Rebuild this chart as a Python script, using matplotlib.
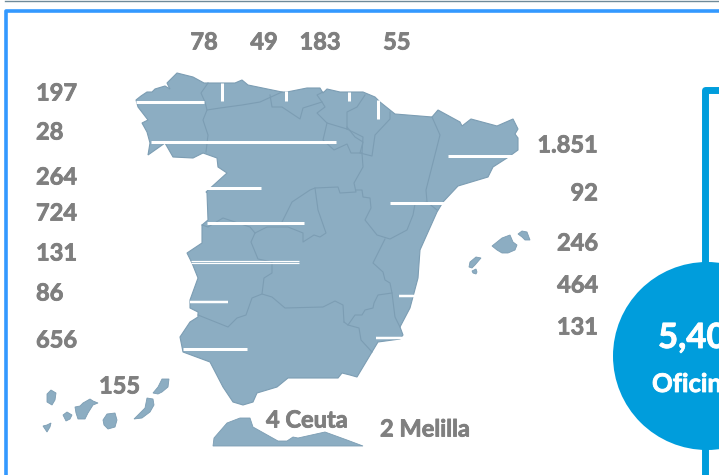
import matplotlib
matplotlib.use("Agg")
import matplotlib.pyplot as plt
import matplotlib.patheffects as pe
from matplotlib.patches import Polygon, Circle

plt.rcParams['font.family'] = ['Lato', 'DejaVu Sans']

# ---- data: labels
left_values = ["197", "28", "264", "724", "131", "86", "656"]
top_values = ["78", "49", "183", "55"]
right_values = ["1.851", "92", "246", "464", "131"]
canary_value = "155"
ceuta_label = "4 Ceuta"
melilla_label = "2 Melilla"
total_label = "5,400"
total_caption = "Oficinas"

# ---- layout (pixel coordinates of the 719x475 picture)
left_y = [93, 132, 177, 213, 253, 293, 340]
top_x = [204, 264, 320, 397]
right_y = [145, 193, 243, 285, 327]

FILL = "#8CADC2"
EDGE = "#7C9DB3"
GREY = "#7F7F7F"
BLUE = "#009DDC"
FRAME = "#3399FF"

mainland = [(136,100),(141,96),(147,92),(152,92),(155,89),(165,86),(170,89),(167,83),(177,73),(193,77),
 (204,83),(220,83),(235,83),(242,80),(248,85),(282,92),(287,92),(307,88),(320,88),(323,93),(327,89),
 (340,92),(363,92),(375,97),(380,102),(395,114),(432,117),(438,110),(460,122),(462,126),(471,119),
 (497,126),(513,119),(518,129),(515,134),(518,138),(518,150),(507,158),(493,167),(488,177),(458,186),
 (443,202),(437,212),(420,250),(418,278),(410,308),(400,327),(403,335),(400,339),(378,342),(372,352),
 (357,377),(350,375),(342,373),(338,378),(288,378),(277,387),(257,393),(253,402),(243,405),(233,402),
 (223,387),(210,362),(183,352),(180,337),(190,322),(198,317),(198,312),(190,308),(190,300),(198,278),
 (192,263),(187,253),(202,243),(202,225),(208,220),(207,193),(206,192),(227,173),(218,167),(217,158),
 (203,153),(193,158),(173,157),(165,143),(148,155),(150,143),(147,132),(142,123),(148,120),(138,107)]

borders = [
 [(208,83),(201,93),(205,102),(207,110),(203,120),(208,135),(206,152)],
 [(207,110),(220,108),(242,105),(260,102),(282,92)],
 [(270,95),(272,107),(282,107),(300,119),(303,108),(322,102),(317,95),(323,92)],
 [(322,102),(325,107),(317,113),(327,123),(347,129)],
 [(365,95),(357,107),(347,112),(347,129)],
 [(327,123),(323,140),(334,150),(347,144),(351,153),(362,153),(363,137),(347,129)],
 [(362,153),(363,167),(354,183),(356,192),(340,193),(338,187),(315,188),(310,190),(292,202),(283,220),(282,222)],
 [(390,112),(390,119),(375,135),(372,156),(360,153),(363,142),(355,137),(347,127)],
 [(432,117),(440,135),(426,190),(427,202)],
 [(356,190),(362,190),(363,197),(370,198),(371,208),(365,220),(377,235),(390,239),(407,230),(413,215),(415,204),(427,202),(437,210)],
 [(385,239),(373,263),(383,272),(385,280),(390,283),(392,293),(395,317),(400,327)],
 [(392,293),(378,295),(374,303),(373,308),(365,310),(362,315),(355,315),(348,325)],
 [(344,322),(348,325),(359,328),(361,340),(372,352)],
 [(344,322),(343,305),(335,301),(323,307),(285,308),(272,297),(262,294),(252,298),(246,315),(237,318),(228,327),(198,315)],
 [(262,294),(264,278),(272,273),(272,262),(258,259),(251,242),(255,233),(267,227),(288,227),(303,233),(303,242),(314,235),(320,237),(326,233),(318,210),(315,188)],
 [(202,225),(208,227),(223,218),(250,227),(255,233)],
]

islands = [
 # North Africa coast
 [(213,446),(214,438),(227,423),(240,418),(250,418),(253,427),(278,441),(287,441),(293,437),(298,438),(325,432),(347,440),(363,446)],
 # Canaries
 [(43,426),(47,425),(51,423),(50,427),(47,432),(45,429)],
 [(47,394),(51,390),(56,393),(55,400),(52,405),(47,402)],
 [(63,415),(67,412),(72,415),(70,419),(66,421)],
 [(75,407),(80,406),(83,403),(90,399),(93,401),(98,403),(93,405),(88,413),(85,419),(78,419),(76,413)],
 [(103,420),(107,414),(115,413),(117,420),(115,427),(108,429),(104,425)],
 [(134,419),(140,413),(145,408),(147,398),(153,399),(154,405),(150,412),(142,418)],
 [(153,393),(158,387),(162,379),(169,379),(168,387),(162,392),(158,394)],
 # Balearics
 [(492,246),(502,238),(510,235),(513,242),(517,245),(515,250),(508,253),(502,253),(497,250)],
 [(518,234),(522,231),(527,232),(530,240),(525,240),(522,237)],
 [(469,267),(470,262),(476,257),(481,258),(475,265),(472,268)],
 [(472,271),(476,269),(477,272),(476,274),(473,273)],
]

leaders = [
 (136,204,101.5,101.5,3),(221.5,221.5,83,101,3),(285.5,285.5,91,101,3),(349,349,92,101,3),(377.5,377.5,100,119,3),
 (151,336,141.5,141.5,3),(206,261,187.5,187.5,3),(448,516,156,156,3),(390,447,202.5,202.5,3),
 (207,304,222.5,222.5,3),(191,299,260.7,260.7,1.2),(191,299,262.7,262.7,1.2),(190,228,302,302,2.5),
 (183,247,349,349,3),(399,421,296,296,2.5),(376,403,337.5,337.5,2.5),
]

fig = plt.figure(figsize=(7.19, 4.75), dpi=100)
ax = fig.add_axes([0, 0, 1, 1])
ax.set_xlim(0, 719)
ax.set_ylim(475, 0)
ax.axis("off")

# outer frames
ax.plot([5, 719], [0.5, 0.5], color="#6F8A99", lw=1)
ax.plot([5.5, 5.5, 719], [475, 10.5, 10.5], color=FRAME, lw=2.6, solid_joinstyle="round")
ax.plot([705, 705, 719], [475, 89.5, 89.5], color=BLUE, lw=5, solid_joinstyle="round", zorder=2)

# map
ax.add_patch(Polygon(mainland, closed=True, fc=FILL, ec=EDGE, lw=0.8, zorder=3))
for b in borders:
    xs, ys = zip(*b)
    ax.plot(xs, ys, color=EDGE, lw=0.8, zorder=4)
for isl in islands:
    ax.add_patch(Polygon(isl, closed=True, fc=FILL, ec=EDGE, lw=0.6, zorder=3))

# leader lines
for x0, x1, y0, y1, w in leaders:
    ax.plot([x0, x1], [y0, y1], color="white", lw=w * 0.72, solid_capstyle="butt", zorder=5)

# labels
grey_bold = [pe.withStroke(linewidth=0.6, foreground=GREY)]
white_bold = [pe.withStroke(linewidth=0.6, foreground="white")]
tk = dict(color=GREY, fontweight="bold", fontsize=17, zorder=6, path_effects=grey_bold)
for y, s in zip(left_y, left_values):
    ax.text(36, y, s, ha="left", va="center", **tk)
for x, s in zip(top_x, top_values):
    ax.text(x, 42, s, ha="center", va="center", **tk)
for y, s in zip(right_y, right_values):
    ax.text(598, y, s, ha="right", va="center", **tk)
ax.text(99, 386, canary_value, ha="left", va="center", **tk)
ax.text(266, 420, ceuta_label, ha="left", va="center", **tk)
ax.text(380, 429, melilla_label, ha="left", va="center", **tk)

# total bubble
ax.add_patch(Circle((707, 356), 94, fc=BLUE, ec="none", zorder=7))
ax.text(658, 338, total_label, ha="left", va="center", color="white", fontweight="bold",
        fontsize=25, zorder=8, path_effects=white_bold)
ax.text(652, 384, total_caption, ha="left", va="center", color="white", fontweight="bold",
        fontsize=18.5, zorder=8, path_effects=white_bold)

fig.savefig("out.png", dpi=100)
